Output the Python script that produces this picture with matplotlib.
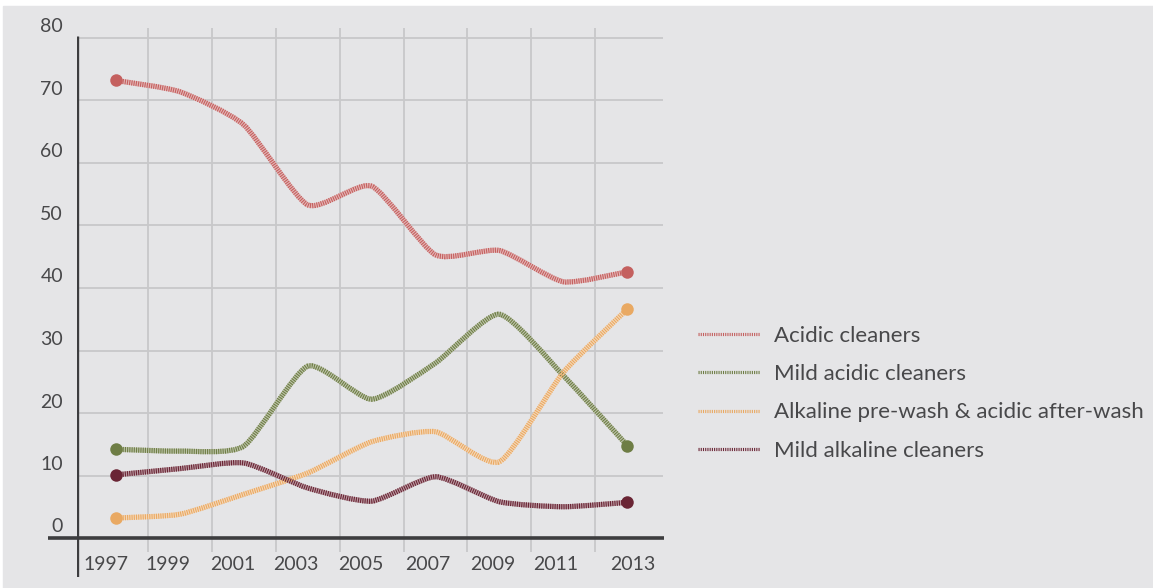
import numpy as np
import matplotlib
matplotlib.use("Agg")
import matplotlib.pyplot as plt
from matplotlib.path import Path
from matplotlib.patches import PathPatch, Rectangle
from matplotlib.lines import Line2D
from matplotlib.colors import to_rgb

plt.rcParams['font.family'] = ['Lato', 'DejaVu Sans']
plt.rcParams['lines.scale_dashes'] = False

# ---- data -------------------------------------------------------------
years = ["1997", "1999", "2001", "2003", "2005", "2007", "2009", "2011", "2013"]
acidic = [73.2, 71.4, 66.1, 53.3, 56.3, 45.3, 46.0, 41.0, 42.6]
mild_acidic = [14.2, 13.9, 14.7, 27.5, 22.2, 28.0, 35.8, 26.0, 14.8]
alkaline_pre_wash = [3.2, 3.8, 7.0, 10.4, 15.4, 17.0, 12.2, 26.5, 36.6]
mild_alkaline = [10.1, 11.1, 12.0, 8.0, 5.9, 9.8, 5.8, 5.0, 5.7]
series_names = ["Acidic cleaners", "Mild acidic cleaners",
                "Alkaline pre-wash & acidic after-wash", "Mild alkaline cleaners"]
y_ticks = [0, 10, 20, 30, 40, 50, 60, 70, 80]

# ---- style ------------------------------------------------------------
colors = ["#c4605f", "#6e7d45", "#e9a963", "#6a2535"]
label_offsets = [-0.16, -0.19, -0.17, -0.19, -0.17, -0.12, -0.11, -0.125, 0.08]
text_color = "#48484a"
grid_color = "#c8c8ca"
axis_color = "#3d3d3f"
bg_color = "#e5e5e7"
dash = (0, (0.8, 0.8))

W, H = 1153, 588
fig = plt.figure(figsize=(W / 100, H / 100), dpi=100)
fig.patch.set_facecolor("white")
fig.patches.append(Rectangle((3 / W, 0), 1, (H - 6) / H, transform=fig.transFigure,
                             color=bg_color, zorder=-10))

ax = fig.add_axes([77 / W, 11 / H, (663 - 77) / W, (577 - 28) / H])
ax.set_facecolor("none")
x_min, x_max = -0.61, 8.56
y_min, y_max = -6.24, 81.6
ax.set_xlim(x_min, x_max)
ax.set_ylim(y_min, y_max)
ax.axis("off")

px_x = (663 - 77) / (x_max - x_min)   # pixels per category step
px_y = (577 - 28) / (y_max - y_min)   # pixels per unit

# grid
ax.hlines(y_ticks[1:], x_min - 5 / px_x, x_max, color=grid_color, lw=1.3, zorder=1)
ax.vlines(np.arange(len(years) - 1) + 0.5, -14 / px_y, y_max, color=grid_color, lw=1.3, zorder=1)
# axes lines
ax.hlines(0, x_min - 29 / px_x, x_max + 1 / px_x, color=axis_color, lw=2.6, zorder=2, clip_on=False)
ax.vlines(x_min, y_min, (538 - 36) / px_y, color=axis_color, lw=2.4, zorder=2)

# tick labels
for v in y_ticks:
    ax.text(x_min - 14 / px_x, v + 11 / px_y, str(v), ha="right", va="center",
            fontsize=14, color=text_color)
for i, (yr, off) in enumerate(zip(years, label_offsets)):
    ax.text(i + off, -27 / px_y, yr, ha="center", va="center", fontsize=14, color=text_color)


def smooth_path(xs, ys, k=0.3):
    pts = np.column_stack([xs, ys]).astype(float)
    n = len(pts)
    verts = [pts[0]]
    codes = [Path.MOVETO]
    for i in range(n - 1):
        p_prev = pts[max(i - 1, 0)]
        p0, p1 = pts[i], pts[i + 1]
        p_next = pts[min(i + 2, n - 1)]
        c1 = p0 + (p1 - p_prev) * k / 3
        c2 = p1 - (p_next - p0) * k / 3
        verts += [c1, c2, p1]
        codes += [Path.CURVE4] * 3
    return Path(verts, codes)


def pale(c, f=0.55):
    r = np.array(to_rgb(c))
    return tuple(r + (1 - r) * f)


xs = np.arange(len(years))
all_series = [acidic, mild_acidic, alkaline_pre_wash, mild_alkaline]
for vals, c in zip(all_series, colors):
    path = smooth_path(xs, vals)
    ax.add_patch(PathPatch(path, fill=False, edgecolor=pale(c), lw=3.6, zorder=3,
                           capstyle="butt", joinstyle="round"))
    ax.add_patch(PathPatch(path, fill=False, edgecolor=c, lw=3.8, zorder=4,
                           linestyle=dash, capstyle="butt"))
    ax.plot([xs[0], xs[-1]], [vals[0], vals[-1]], "o", color=c, ms=9,
            mec="none", zorder=5)

# legend
handles = [Line2D([], [], color=c, lw=2.3, linestyle=dash) for c in colors]
leg = fig.legend(handles, series_names, loc="upper left",
                 bbox_to_anchor=(698 / W, (H - 326) / H), frameon=False,
                 fontsize=16, handlelength=2.8, handletextpad=0.6,
                 labelspacing=0.82, borderpad=0, borderaxespad=0)
for t in leg.get_texts():
    t.set_color(text_color)

fig.savefig("out.png", dpi=100, facecolor=fig.get_facecolor())
